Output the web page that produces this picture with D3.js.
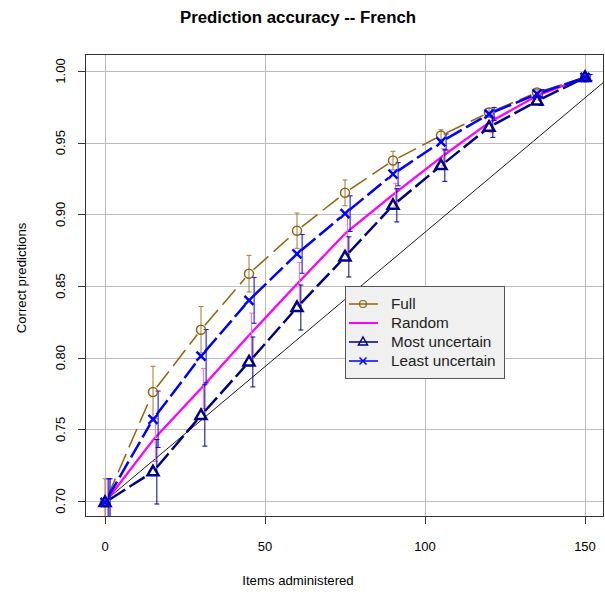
<!DOCTYPE html>
<html>
<head>
<meta charset="utf-8">
<script src="https://cdn.jsdelivr.net/npm/d3@7"></script>
<style>
    body { margin: 0; background: #fff; }
    text { font-family: "Liberation Sans", Arial, sans-serif; }
</style>
</head>
<body>
<div class="svg-wrap"><svg></svg></div>
<script>
var items = [0, 15, 30, 45, 60, 75, 90, 105, 120, 135, 150];
var seriesNames = ["Full", "Random", "Most uncertain", "Least uncertain"];

var fullValues = [0.699, 0.776, 0.8195, 0.8586, 0.8886, 0.915, 0.9375, 0.955, 0.971, 0.985, 0.9955];
var randomValues = [0.699, 0.7425, 0.7785, 0.8156, 0.8514, 0.8865, 0.9137, 0.9398, 0.964, 0.9827, 0.9955];
var mostValues = [0.699, 0.7204, 0.7597, 0.797, 0.835, 0.8703, 0.9063, 0.934, 0.9607, 0.979, 0.9955];
var leastValues = [0.699, 0.757, 0.801, 0.840, 0.8724, 0.9005, 0.928, 0.9505, 0.970, 0.984, 0.9955];

// half widths of the error bars
var fullErr = [0.0165, 0.018, 0.0162, 0.0128, 0.0123, 0.009, 0.0065, 0.004, 0.003, 0.002, 0.0015];
var randomErr = [0.0165, 0.015, 0.014, 0.0155, 0.015, 0.0145, 0.008, 0.006, 0.007, 0.003, 0.002];
var mostErr = [0.0165, 0.0225, 0.0214, 0.0174, 0.0157, 0.014, 0.0116, 0.011, 0.007, 0.003, 0.002];
var leastErr = [0.0165, 0.0197, 0.0186, 0.016, 0.0135, 0.0124, 0.0081, 0.0056, 0.0046, 0.003, 0.002];

var xTicks = [0, 50, 100, 150];
var yTicks = [0.70, 0.75, 0.80, 0.85, 0.90, 0.95, 1.00];
var refLine = [[0, 0.70], [160, 1.00]];

var width = 605, height = 594;
var plotLeft = 85, plotRight = 604, plotTop = 54, plotBottom = 517;

var svg = d3.select(".svg-wrap > svg")
    .attr("width", width)
    .attr("height", height);

var x = d3.scaleLinear().domain([-6.25, 156.25]).range([85, 605]);
var y = d3.scaleLinear().domain([0.68884, 1.01186]).range([517, 54]);

var series = [
    { name: seriesNames[0], values: fullValues, err: fullErr, color: "#8f6514", barColor: "#a07a36", width: 1.5, dash: "20,7", marker: "circle", offset: 0 },
    { name: seriesNames[1], values: randomValues, err: randomErr, color: "#ff00ff", barColor: "#ff66ff", width: 2.3, dash: null, marker: null, offset: 0.8 },
    { name: seriesNames[2], values: mostValues, err: mostErr, color: "#000080", barColor: "#000080", width: 2.5, dash: "18,5", marker: "triangle", offset: 1.2 },
    { name: seriesNames[3], values: leastValues, err: leastErr, color: "#0000ff", barColor: "#0000ff", width: 2.5, dash: "18,5", marker: "cross", offset: 1.6 }
];

svg.append("defs").append("clipPath")
    .attr("id", "plotclip")
    .append("rect")
    .attr("x", plotLeft).attr("y", plotTop)
    .attr("width", plotRight - plotLeft).attr("height", plotBottom - plotTop);

// grid
var grid = svg.append("g").attr("class", "grid");
grid.selectAll("line.gx")
    .data(xTicks).enter().append("line")
    .attr("class", "gx")
    .attr("x1", function (d) { return Math.round(x(d)) + 0.5; })
    .attr("x2", function (d) { return Math.round(x(d)) + 0.5; })
    .attr("y1", plotTop).attr("y2", plotBottom)
    .attr("stroke", "#bdbdbd");
grid.selectAll("line.gy")
    .data(yTicks).enter().append("line")
    .attr("class", "gy")
    .attr("y1", function (d) { return Math.round(y(d)) + 0.5; })
    .attr("y2", function (d) { return Math.round(y(d)) + 0.5; })
    .attr("x1", plotLeft).attr("x2", plotRight)
    .attr("stroke", "#bdbdbd");

var plot = svg.append("g").attr("clip-path", "url(#plotclip)");

plot.append("line")
    .attr("x1", x(refLine[0][0])).attr("y1", y(refLine[0][1]))
    .attr("x2", x(refLine[1][0])).attr("y2", y(refLine[1][1]))
    .attr("stroke", "#000")
    .attr("stroke-width", 0.9);

// lines, with gaps round the markers like type="b"
series.forEach(function (s) {
    var pts = items.map(function (d, i) { return [x(d), y(s.values[i])]; });
    var gap = s.marker ? 6 : 0;
    var segs = d3.pairs(pts).map(function (p) {
        var dx = p[1][0] - p[0][0], dy = p[1][1] - p[0][1];
        var len = Math.sqrt(dx * dx + dy * dy);
        var ux = dx / len, uy = dy / len;
        var g = Math.min(gap, len / 2 - 1);
        return [[p[0][0] + ux * g, p[0][1] + uy * g], [p[1][0] - ux * g, p[1][1] - uy * g]];
    });
    plot.append("g")
        .selectAll("line")
        .data(segs).enter().append("line")
        .attr("x1", function (d) { return d[0][0]; })
        .attr("y1", function (d) { return d[0][1]; })
        .attr("x2", function (d) { return d[1][0]; })
        .attr("y2", function (d) { return d[1][1]; })
        .attr("stroke", s.color)
        .attr("stroke-width", s.width)
        .attr("stroke-dasharray", s.dash);
});

// error bars
series.forEach(function (s) {
    var bars = plot.append("g").selectAll("g")
        .data(items).enter().append("g")
        .attr("stroke", s.barColor)
        .attr("stroke-width", 1);
    bars.append("line")
        .attr("x1", function (d) { return x(d + s.offset); })
        .attr("x2", function (d) { return x(d + s.offset); })
        .attr("y1", function (d, i) { return y(s.values[i] - s.err[i]); })
        .attr("y2", function (d, i) { return y(s.values[i] + s.err[i]); });
    [-1, 1].forEach(function (sign) {
        bars.append("line")
            .attr("x1", function (d) { return x(d + s.offset) - 2.5; })
            .attr("x2", function (d) { return x(d + s.offset) + 2.5; })
            .attr("y1", function (d, i) { return y(s.values[i] + sign * s.err[i]); })
            .attr("y2", function (d, i) { return y(s.values[i] + sign * s.err[i]); });
    });
});

function drawMarker(g, type, color, cx, cy) {
    if (type == "circle") {
        g.append("circle")
            .attr("cx", cx).attr("cy", cy).attr("r", 4.5)
            .attr("fill", "none").attr("stroke", color).attr("stroke-width", 1.5);
    } else if (type == "triangle") {
        g.append("path")
            .attr("d", "M" + cx + "," + (cy - 6) + "L" + (cx + 5.5) + "," + (cy + 3.5) + "L" + (cx - 5.5) + "," + (cy + 3.5) + "Z")
            .attr("fill", "none").attr("stroke", color).attr("stroke-width", 2.5);
    } else if (type == "cross") {
        g.append("path")
            .attr("d", "M" + (cx - 4.5) + "," + (cy - 4.5) + "L" + (cx + 4.5) + "," + (cy + 4.5) +
                "M" + (cx - 4.5) + "," + (cy + 4.5) + "L" + (cx + 4.5) + "," + (cy - 4.5))
            .attr("fill", "none").attr("stroke", color).attr("stroke-width", 2.5);
    }
}

series.forEach(function (s) {
    if (!s.marker) return;
    var g = plot.append("g");
    items.forEach(function (d, i) {
        drawMarker(g, s.marker, s.color, x(d), y(s.values[i]));
    });
});

// box and axes
svg.append("rect")
    .attr("x", plotLeft + 0.5).attr("y", plotTop + 0.5)
    .attr("width", plotRight - plotLeft - 1).attr("height", plotBottom - plotTop - 1)
    .attr("fill", "none").attr("stroke", "#333");

var xAxis = svg.append("g");
xAxis.selectAll("line")
    .data(xTicks).enter().append("line")
    .attr("x1", function (d) { return Math.round(x(d)) + 0.5; })
    .attr("x2", function (d) { return Math.round(x(d)) + 0.5; })
    .attr("y1", plotBottom).attr("y2", plotBottom + 7)
    .attr("stroke", "#333");
xAxis.selectAll("text")
    .data(xTicks).enter().append("text")
    .attr("x", function (d) { return x(d); })
    .attr("y", 551)
    .attr("text-anchor", "middle")
    .attr("font-size", "13px")
    .text(function (d) { return d; });

var yAxis = svg.append("g");
yAxis.selectAll("line")
    .data(yTicks).enter().append("line")
    .attr("y1", function (d) { return Math.round(y(d)) + 0.5; })
    .attr("y2", function (d) { return Math.round(y(d)) + 0.5; })
    .attr("x1", plotLeft - 7).attr("x2", plotLeft)
    .attr("stroke", "#333");
yAxis.selectAll("text")
    .data(yTicks).enter().append("text")
    .attr("transform", function (d) { return "translate(65," + y(d) + ")rotate(-90)"; })
    .attr("text-anchor", "middle")
    .attr("font-size", "13px")
    .text(function (d) { return d3.format(".2f")(d); });

svg.append("text")
    .attr("x", 298).attr("y", 585)
    .attr("text-anchor", "middle")
    .attr("font-size", "13.2px")
    .text("Items administered");

svg.append("text")
    .attr("transform", "translate(26,278)rotate(-90)")
    .attr("text-anchor", "middle")
    .attr("font-size", "13.2px")
    .text("Correct predictions");

svg.append("text")
    .attr("x", 298).attr("y", 23)
    .attr("text-anchor", "middle")
    .attr("font-size", "16.8px")
    .attr("font-weight", "bold")
    .text("Prediction accuracy -- French");

// legend
var legend = svg.append("g").attr("transform", "translate(345,286)");
legend.append("rect")
    .attr("x", 0.5).attr("y", 0.5)
    .attr("width", 159).attr("height", 92)
    .attr("fill", "#f0f0f0").attr("stroke", "#555");
series.forEach(function (s, i) {
    var ly = 18 + i * 19;
    legend.append("line")
        .attr("x1", 4).attr("x2", 33)
        .attr("y1", ly).attr("y2", ly)
        .attr("stroke", s.color)
        .attr("stroke-width", s.marker ? 1.5 : 2);
    if (s.marker) {
        var mg = legend.append("g");
        if (s.marker == "circle") {
            mg.append("circle").attr("cx", 18).attr("cy", ly).attr("r", 3.5)
                .attr("fill", "none").attr("stroke", s.color).attr("stroke-width", 1.2);
        } else if (s.marker == "triangle") {
            mg.append("path")
                .attr("d", "M18," + (ly - 5) + "L22.5," + (ly + 3) + "L13.5," + (ly + 3) + "Z")
                .attr("fill", "none").attr("stroke", s.color).attr("stroke-width", 1.5);
        } else {
            mg.append("path")
                .attr("d", "M14.5," + (ly - 3.5) + "L21.5," + (ly + 3.5) + "M14.5," + (ly + 3.5) + "L21.5," + (ly - 3.5))
                .attr("fill", "none").attr("stroke", s.color).attr("stroke-width", 1.5);
        }
    }
    legend.append("text")
        .attr("x", 46).attr("y", ly + 5)
        .attr("font-size", "15.3px")
        .attr("fill", "#222")
        .text(s.name);
});
</script>
</body>
</html>
